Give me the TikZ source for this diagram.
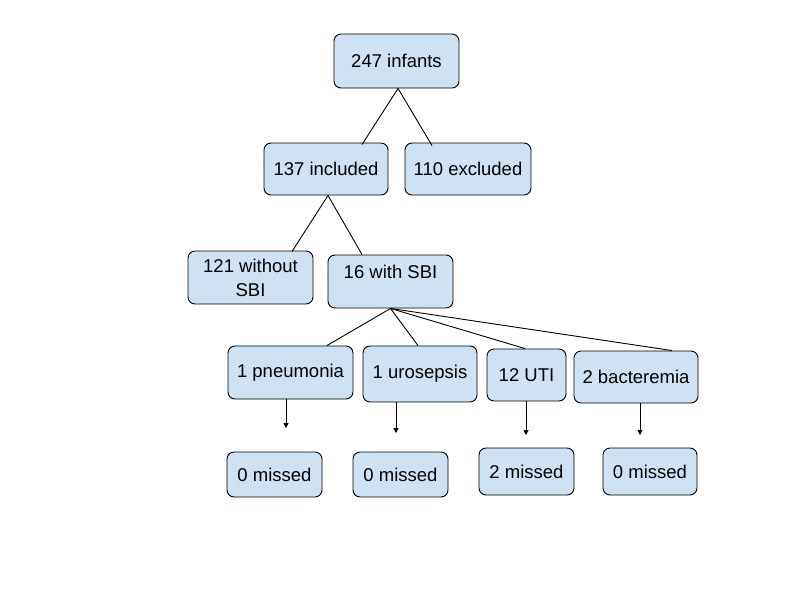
\documentclass[tikz,border=0pt]{standalone}
\usepackage{fontspec}
\setmainfont{Liberation Sans}
\usepackage{xcolor}
\usepackage{tikz}
\usetikzlibrary{arrows.meta}
\colorlet{boxblue}{rgb,255:red,207;green,226;blue,243}
\tikzstyle{box}=[draw=black,fill=boxblue,line width=.9pt,rounded corners=7pt,align=center,inner sep=2pt,font=\fontsize{18.5}{24}\selectfont]
\tikzstyle{branch}=[line width=.9pt]
\tikzstyle{drophead}=[>/.tip={Triangle[length=5pt,width=5pt]}]
\tikzstyle{drop}=[line width=.9pt,drophead,->]
\begin{document}
\begin{tikzpicture}[x=1pt,y=-1pt]
	\useasboundingbox[fill=white] (0,0) rectangle (800,600);
	% the tree
	\node[box,minimum width=125pt,minimum height=54pt] (inf)   at (396.5,61)  {247 infants};
	\node[box,minimum width=124pt,minimum height=52pt] (incl)  at (326,169)   {137 included};
	\node[box,minimum width=126pt,minimum height=52pt] (excl)  at (468,169)   {110 excluded};
	\node[box,minimum width=125pt,minimum height=53pt] (nosbi) at (250.5,277.5) {121 without\\SBI};
	\node[box,minimum width=125pt,minimum height=53pt,text height=13pt,text depth=19pt] (sbi) at (390.5,281.5) {16 with SBI};
	\node[box,minimum width=125pt,minimum height=53pt] (pneu)  at (290.5,372.5) {1 pneumonia};
	\node[box,minimum width=114pt,minimum height=56pt] (uro)   at (420,374)   {1 urosepsis};
	\node[box,minimum width=79pt, minimum height=52pt] (uti)   at (526.5,375) {12 UTI};
	\node[box,minimum width=124pt,minimum height=52pt] (bact)  at (636,377)   {2 bacteremia};
	% missed
	\node[box,minimum width=95pt,minimum height=45pt] (mpneu) at (274.5,474.5) {0 missed};
	\node[box,minimum width=95pt,minimum height=45pt] (muro)  at (400.5,474.5) {0 missed};
	\node[box,minimum width=95pt,minimum height=47pt] (muti)  at (526.5,471.5) {2 missed};
	\node[box,minimum width=94pt,minimum height=47pt] (mbact) at (650,471.5)   {0 missed};
	\coordinate (epneu) at (286,428);
	\coordinate (euro)  at (396,433);
	\coordinate (euti)  at (526,435);
	\coordinate (ebact) at (640,435);
	\draw[branch] ([xshift=1.5pt]inf.south) -- ([shift={(36,2)}]incl.north);
	\draw[branch] ([xshift=1.5pt]inf.south) -- ([shift={(-36,3)}]excl.north);
	\draw[branch] ([xshift=2pt]incl.south) -- ([shift={(41.5,1)}]nosbi.north);
	\draw[branch] ([xshift=2pt]incl.south) -- ([xshift=-28.5pt]sbi.north);
	\draw[branch] (sbi.south) -- ([xshift=36.5pt]pneu.north);
	\draw[branch] (sbi.south) -- ([xshift=-2pt]uro.north);
	\draw[branch] (sbi.south) -- ([xshift=-1.5pt]uti.north);
	\draw[branch] (sbi.south) -- ([xshift=36pt]bact.north);
	\draw[drop] (pneu.south -| epneu) -- (epneu);
	\draw[drop] (uro.south -| euro) -- (euro);
	\draw[drop] (uti.south -| euti) -- (euti);
	\draw[drop] (bact.south -| ebact) -- (ebact);
\end{tikzpicture}
\end{document}
